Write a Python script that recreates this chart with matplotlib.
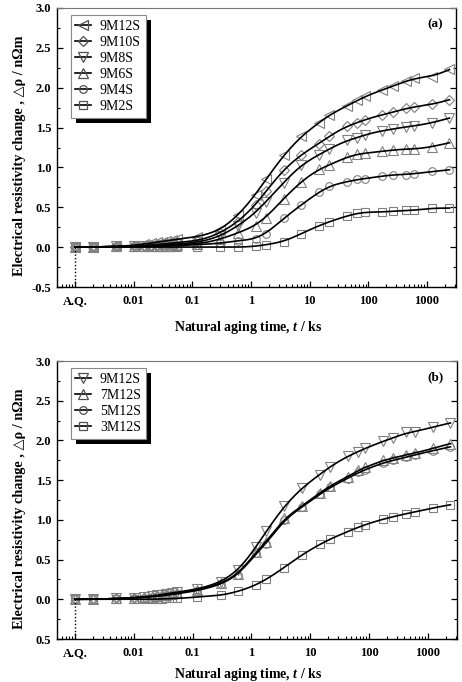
import numpy as np
import matplotlib
matplotlib.use("Agg")
import matplotlib.pyplot as plt
from matplotlib.lines import Line2D
from matplotlib.patches import Rectangle
from matplotlib.transforms import IdentityTransform

plt.rcParams['font.family'] = ['Liberation Serif', 'DejaVu Serif']
plt.rcParams['axes.unicode_minus'] = False
plt.rcParams['mathtext.fontset'] = 'custom'
plt.rcParams['mathtext.rm'] = 'Liberation Serif'
plt.rcParams['mathtext.it'] = 'Liberation Serif:italic:bold'
plt.rcParams['mathtext.bf'] = 'Liberation Serif:bold'

# ---- data ----
# aging times in ks; first point (0.001) is the as-quenched (A.Q.) state
t = [0.001, 0.002, 0.005, 0.01, 0.015, 0.02, 0.025, 0.03, 0.035, 0.045, 0.055,
     0.12, 0.3, 0.6, 1.2, 1.8, 3.6, 7.2, 14.4, 21.6, 43.2, 64.8, 86.4,
     172.8, 259.2, 432, 604.8, 1209.6, 2419.2]

a_9M12S = [0, 0.0, 0.01, 0.02, 0.04, 0.05, 0.06, 0.07, 0.08, 0.09, 0.10,
           0.13, 0.22, 0.40, 0.66, 0.85, 1.15, 1.39, 1.56, 1.66, 1.77, 1.84, 1.89,
           1.97, 2.02, 2.08, 2.12, 2.14, 2.23]
a_9M10S = [0, 0, 0.01, 0.01, 0.02, 0.03, 0.03, 0.04, 0.04, 0.05, 0.06,
           0.08, 0.18, 0.32, 0.53, 0.70, 0.97, 1.16, 1.30, 1.39, 1.52, 1.56, 1.60,
           1.66, 1.69, 1.74, 1.76, 1.79, 1.85]
a_9M8S = [0, 0, 0.01, 0.01, 0.01, 0.02, 0.02, 0.03, 0.03, 0.03, 0.04,
          0.06, 0.14, 0.27, 0.43, 0.57, 0.81, 1.03, 1.16, 1.23, 1.34, 1.37, 1.41,
          1.46, 1.48, 1.51, 1.52, 1.56, 1.62]
a_9M6S = [0, 0, 0.01, 0.01, 0.01, 0.01, 0.02, 0.02, 0.02, 0.02, 0.03,
          0.04, 0.10, 0.18, 0.27, 0.37, 0.61, 0.82, 0.98, 1.03, 1.13, 1.17, 1.18,
          1.20, 1.22, 1.23, 1.23, 1.26, 1.31]
a_9M4S = [0, 0, 0, 0.01, 0.01, 0.01, 0.01, 0.01, 0.01, 0.01, 0.02,
          0.03, 0.05, 0.08, 0.10, 0.17, 0.36, 0.53, 0.69, 0.77, 0.82, 0.85, 0.86,
          0.89, 0.91, 0.91, 0.92, 0.95, 0.97]
a_9M2S = [0, 0, 0, 0, 0, 0, 0, 0, 0, 0, 0,
          0, 0.0, 0.0, 0.01, 0.03, 0.07, 0.17, 0.27, 0.32, 0.39, 0.43, 0.44,
          0.44, 0.45, 0.46, 0.46, 0.49, 0.49]

b_9M12S = [0, 0.0, 0.01, 0.02, 0.03, 0.04, 0.05, 0.06, 0.07, 0.08, 0.09,
           0.13, 0.22, 0.37, 0.66, 0.86, 1.17, 1.40, 1.57, 1.67, 1.80, 1.86, 1.90,
           1.99, 2.03, 2.10, 2.11, 2.17, 2.22]
b_7M12S = [0, 0, 0.01, 0.02, 0.03, 0.03, 0.04, 0.05, 0.06, 0.07, 0.08,
           0.12, 0.20, 0.32, 0.60, 0.72, 1.02, 1.17, 1.34, 1.43, 1.54, 1.63, 1.66,
           1.75, 1.78, 1.82, 1.84, 1.90, 1.96]
b_5M12S = [0, 0, 0.01, 0.02, 0.02, 0.03, 0.04, 0.04, 0.05, 0.06, 0.07,
           0.11, 0.19, 0.31, 0.58, 0.70, 1.00, 1.16, 1.32, 1.41, 1.52, 1.60, 1.63,
           1.72, 1.75, 1.79, 1.82, 1.87, 1.92]
b_3M12S = [0, 0, 0, 0, 0, 0, 0, 0, 0.01, 0.01, 0.01,
           0.03, 0.05, 0.10, 0.18, 0.25, 0.40, 0.56, 0.69, 0.76, 0.85, 0.91, 0.94,
           1.01, 1.04, 1.08, 1.10, 1.15, 1.19]

labels_a = ['9M12S', '9M10S', '9M8S', '9M6S', '9M4S', '9M2S']
labels_b = ['9M12S', '7M12S', '5M12S', '3M12S']
xtick_vals = [0.001, 0.01, 0.1, 1, 10, 100, 1000]
xtick_labels = ['A.Q.', '0.01', '0.1', '1', '10', '100', '1000']
ytick_vals = [-0.5, 0.0, 0.5, 1.0, 1.5, 2.0, 2.5, 3.0]
ytick_labels_a = ['-0.5', '0.0', '0.5', '1.0', '1.5', '2.0', '2.5', '3.0']
ytick_labels_b = ['0.5', '0.0', '0.5', '1.0', '1.5', '2.0', '2.5', '3.0']


def pchip(x, y, xn):
    x = np.asarray(x, float); y = np.asarray(y, float)
    h = np.diff(x); d = np.diff(y) / h
    m = np.zeros_like(y)
    m[0] = d[0]; m[-1] = d[-1]
    for k in range(1, len(x) - 1):
        if d[k - 1] * d[k] > 0:
            w1 = 2 * h[k] + h[k - 1]; w2 = h[k] + 2 * h[k - 1]
            m[k] = (w1 + w2) / (w1 / d[k - 1] + w2 / d[k])
    idx = np.clip(np.searchsorted(x, xn) - 1, 0, len(x) - 2)
    hk = h[idx]; s = (xn - x[idx]) / hk
    h00 = 2 * s**3 - 3 * s**2 + 1; h10 = s**3 - 2 * s**2 + s
    h01 = -2 * s**3 + 3 * s**2; h11 = s**3 - s**2
    return h00 * y[idx] + h10 * hk * m[idx] + h01 * y[idx + 1] + h11 * hk * m[idx + 1]


def smooth_curve(xg, yg, sigma):
    # gaussian smoothing of the dense curve (in log-time), linear padding at ends
    dx = xg[1] - xg[0]
    n = int(4 * sigma / dx)
    sl = (yg[-1] - yg[-40]) / (xg[-1] - xg[-40])
    pad_r = yg[-1] + sl * dx * np.arange(1, n + 1)
    pad_l = np.full(n, yg[0])
    ext = np.concatenate([pad_l, yg, pad_r])
    k = np.exp(-0.5 * ((np.arange(-n, n + 1) * dx) / sigma) ** 2)
    k /= k.sum()
    return np.convolve(ext, k, mode='same')[n:-n]


fig = plt.figure(figsize=(4.62, 6.82), dpi=100)
W, H = 462, 682

def make_ax(left, top, right, bottom):
    return fig.add_axes([left / W, 1 - bottom / H, (right - left) / W, (bottom - top) / H])

ax_a = make_ax(57, 8, 456, 287)
ax_b = make_ax(57, 361, 457, 639)

mec = '#808080'
lt = np.log10(np.array(t))
fine = np.linspace(lt[0], lt[-1], 800)


def draw_panel(ax, series, labels, markers, ytl, tag, xlab_y):
    handles = []
    for y, lab, mk in zip(series, labels, markers):
        yc = smooth_curve(fine, pchip(lt, y, fine), 0.15)
        ax.plot(10**fine, yc, color='black', lw=1.2, zorder=3)
        ms = 6.5 if mk in ('<', '>', 'v', '^') else 5.5
        ax.plot(t, y, linestyle='none', marker=mk, ms=ms, mfc='none', mec=mec,
                mew=0.8, zorder=2)
        handles.append(Line2D([], [], color='black', lw=1.2, marker=mk, ms=ms,
                              mfc='none', mec='#505050', mew=0.9))
    ax.plot([0.001, 0.001], [0, -0.5], color='black', ls=(0, (1, 1.5)), lw=1.0, zorder=3)
    ax.set_xscale('log')
    ax.set_xlim(10**-3.307, 10**3.495)
    ax.set_ylim(-0.5, 3.0)
    ax.set_xticks(xtick_vals)
    ax.set_xticklabels(xtick_labels)
    ax.xaxis.set_minor_locator(matplotlib.ticker.LogLocator(base=10, subs=np.arange(2, 10)))
    ax.xaxis.set_minor_formatter(matplotlib.ticker.NullFormatter())
    ax.set_yticks(ytick_vals)
    ax.set_yticklabels(ytl)
    ax.yaxis.set_minor_locator(matplotlib.ticker.MultipleLocator(0.25))
    ax.tick_params(which='both', direction='in', right=True, top=False)
    ax.tick_params(which='major', length=4, width=0.9)
    ax.tick_params(which='minor', length=2.5, width=0.8)
    ax.tick_params(axis='x', pad=6)
    ax.tick_params(axis='y', pad=4)
    for lbl in ax.get_xticklabels() + ax.get_yticklabels():
        lbl.set_fontweight('bold'); lbl.set_fontsize(9)
    for sp in ax.spines.values():
        sp.set_linewidth(1.0)
    ax.spines['top'].set_color('#777777')
    ax.spines['top'].set_linewidth(0.8)
    ax.set_ylabel('Electrical resistivity change , \u25b3\u03c1 / n\u03a9m',
                  fontsize=10.3, fontweight='bold')
    ax.yaxis.set_label_coords(-0.077, 0.47)
    ax.set_xlabel('Natural aging time, $t$ / ks', fontsize=10, fontweight='bold')
    ax.xaxis.set_label_coords(0.478, xlab_y)
    ax.text(0.947, 0.94, tag, transform=ax.transAxes, fontsize=9.5,
            fontweight='bold', ha='center', va='center')
    leg = ax.legend(handles, labels, loc='upper left', bbox_to_anchor=(0.034, 0.976),
                    borderaxespad=0, fontsize=10, frameon=True, fancybox=False,
                    edgecolor='#888888', framealpha=1, borderpad=0.35,
                    handlelength=1.15, handletextpad=0.6, labelspacing=0.22)
    leg.get_frame().set_linewidth(0.8)
    leg.set_zorder(10)
    return leg


leg_a = draw_panel(ax_a, [a_9M12S, a_9M10S, a_9M8S, a_9M6S, a_9M4S, a_9M2S], labels_a,
                   ['<', 'D', 'v', '^', 'o', 's'], ytick_labels_a, '(a)', -0.115)
leg_b = draw_panel(ax_b, [b_9M12S, b_7M12S, b_5M12S, b_3M12S], labels_b,
                   ['v', '^', 'o', 's'], ytick_labels_b, '(b)', -0.098)

fig.canvas.draw()
for ax, leg in ((ax_a, leg_a), (ax_b, leg_b)):
    bb = leg.get_window_extent()
    r = Rectangle((bb.x0 + 5, bb.y0 - 5), bb.width, bb.height, transform=IdentityTransform(),
                  facecolor='black', edgecolor='none', zorder=9, clip_on=False)
    ax.add_artist(r)

fig.savefig('out.png', dpi=100)
